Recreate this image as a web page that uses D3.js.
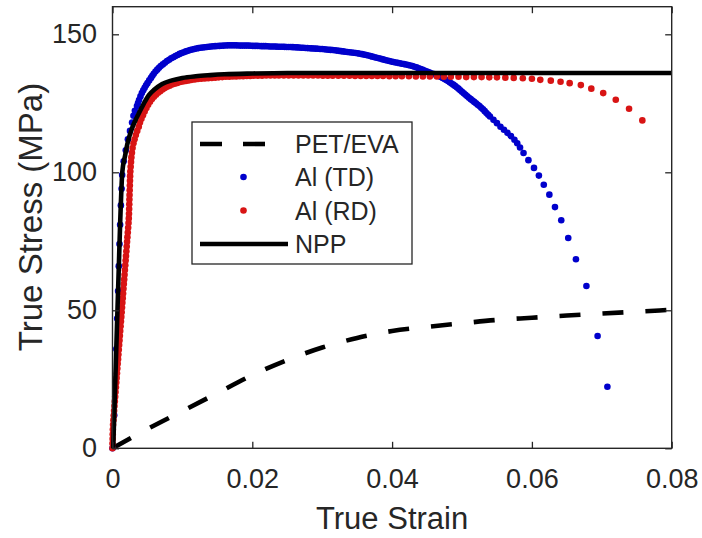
<!DOCTYPE html>
<html>
<head>
<meta charset="utf-8">
<script src="https://cdn.jsdelivr.net/npm/d3@7"></script>
<style>
  html, body { margin: 0; padding: 0; background: #fff; }
  svg { display: block; }
  text { font-family: "Liberation Sans", Arial, Helvetica, sans-serif; fill: #262626; }
</style>
</head>
<body>
<svg id="chart" width="702" height="538"></svg>
<script>
// Axis ticks
const strainTicks = [0, 0.02, 0.04, 0.06, 0.08];
const stressTicks = [0, 50, 100, 150];
const seriesNames = ["PET/EVA", "Al (TD)", "Al (RD)", "NPP"];
const axisTitles = { x: "True Strain", y: "True Stress (MPa)" };

// [true strain, true stress (MPa)]
const petEva = [
  [0, 0], [0.005, 7], [0.01, 13.5], [0.015, 20], [0.02, 26.5], [0.025, 32],
  [0.03, 36.5], [0.035, 40], [0.04, 42.5], [0.045, 44.0], [0.05, 45.3],
  [0.055, 46.5], [0.06, 47.3], [0.065, 48.1], [0.07, 48.8], [0.075, 49.5], [0.08, 50.2]
];

const alTD = [
  [0, 0], [0.000246, 12], [0.00039, 24], [0.00054, 36], [0.00067, 47], [0.0008, 57],
  [0.0009, 66], [0.001, 74], [0.00109, 81], [0.0012, 88], [0.0013, 94], [0.00138, 99],
  [0.0016, 104], [0.0019, 108], [0.0022, 112], [0.0025, 115], [0.0028, 118], [0.003, 120.5],
  [0.0032, 122.3], [0.0035, 124], [0.00365, 125.1], [0.0038, 126.2], [0.004, 127.5],
  [0.0042, 128.7], [0.0044, 129.7], [0.0046, 130.6], [0.0048, 131.5], [0.005, 132.3],
  [0.00525, 133.3], [0.0055, 134.2], [0.0057, 135], [0.0059, 135.7], [0.00615, 136.5],
  [0.0064, 137.2], [0.00665, 137.9], [0.0069, 138.5], [0.0072, 139.1], [0.0075, 139.7],
  [0.0078, 140.3], [0.0081, 140.8], [0.0084, 141.3], [0.0087, 141.7], [0.009, 142.1],
  [0.0093, 142.5], [0.0096, 142.9], [0.0099, 143.2], [0.0102, 143.5], [0.0105, 143.8],
  [0.0108, 144.05], [0.0111, 144.3], [0.0114, 144.5], [0.0117, 144.7], [0.012, 144.85],
  [0.0123, 145], [0.0126, 145.1], [0.0129, 145.2], [0.0132, 145.3], [0.0135, 145.4],
  [0.0138, 145.5], [0.0141, 145.6], [0.0144, 145.65], [0.0147, 145.7], [0.015, 145.75],
  [0.0153, 145.8], [0.0156, 145.85], [0.0159, 145.9], [0.0162, 145.95], [0.0165, 146],
  [0.0168, 146], [0.0171, 146], [0.0174, 146], [0.0177, 146], [0.018, 145.95],
  [0.0183, 145.9], [0.0186, 145.9], [0.0189, 145.9], [0.0192, 145.9], [0.0195, 145.9],
  [0.0198, 145.85], [0.0201, 145.8], [0.0204, 145.8], [0.0207, 145.8], [0.021, 145.75],
  [0.0213, 145.7], [0.0216, 145.7], [0.0219, 145.7], [0.0222, 145.65], [0.0225, 145.6],
  [0.0228, 145.6], [0.0231, 145.6], [0.0234, 145.55], [0.0237, 145.5], [0.024, 145.5],
  [0.0243, 145.5], [0.0246, 145.45], [0.0249, 145.4], [0.0252, 145.4], [0.0255, 145.4],
  [0.0258, 145.35], [0.0261, 145.3], [0.0264, 145.25], [0.0267, 145.2], [0.027, 145.15],
  [0.0273, 145.1], [0.0276, 145.05], [0.0279, 145], [0.0282, 144.95], [0.0285, 144.9],
  [0.0288, 144.85], [0.0291, 144.8], [0.0294, 144.75], [0.0297, 144.7], [0.03, 144.65],
  [0.0303, 144.6], [0.0306, 144.5], [0.0309, 144.4], [0.0312, 144.35], [0.0315, 144.3],
  [0.0318, 144.2], [0.0321, 144.1], [0.0324, 144], [0.0327, 143.9], [0.033, 143.8],
  [0.0333, 143.7], [0.0336, 143.6], [0.0339, 143.5], [0.0342, 143.4], [0.0345, 143.3],
  [0.0348, 143.2], [0.0351, 143.1], [0.0354, 142.95], [0.0357, 142.8], [0.036, 142.65],
  [0.0363, 142.5], [0.0366, 142.3], [0.0369, 142.1], [0.0372, 141.9], [0.0375, 141.7],
  [0.0378, 141.5], [0.0381, 141.3], [0.0384, 141.1], [0.0387, 140.9], [0.039, 140.7],
  [0.0393, 140.5], [0.0396, 140.3], [0.0399, 140.1], [0.0402, 139.95], [0.0405, 139.8],
  [0.0408, 139.65], [0.0411, 139.5], [0.0414, 139.35], [0.0417, 139.2], [0.042, 139.05],
  [0.0423, 138.9], [0.0426, 138.7], [0.0429, 138.5], [0.0432, 138.25], [0.0435, 138],
  [0.0438, 137.7], [0.0441, 137.4], [0.0444, 137.1], [0.0447, 136.8], [0.045, 136.5],
  [0.0453, 136.2], [0.0456, 135.9], [0.046, 135.6], [0.04625, 135.35], [0.0465, 135.1],
  [0.04675, 134.8], [0.047, 134.5], [0.04725, 134.15], [0.0475, 133.8], [0.04775, 133.45],
  [0.048, 133.1], [0.04825, 132.65], [0.0485, 132.2], [0.04875, 131.75], [0.049, 131.3],
  [0.04925, 130.8], [0.0495, 130.3], [0.04975, 129.75], [0.05, 129.2], [0.05025, 128.65],
  [0.0505, 128.1], [0.05075, 127.55], [0.051, 127], [0.05125, 126.5], [0.0515, 126],
  [0.05175, 125.5], [0.052, 125], [0.05225, 124.5], [0.0525, 124], [0.05275, 123.4],
  [0.053, 122.8], [0.05325, 122.15], [0.0535, 121.5], [0.05375, 120.85], [0.054, 120.2],
  [0.0545, 119], [0.055, 117.8], [0.0555, 116.5], [0.056, 115.4], [0.0565, 114.3],
  [0.057, 113.1], [0.0575, 111.8], [0.0579, 110.5], [0.0583, 109], [0.0588, 107],
  [0.0595, 104.4], [0.0603, 101.6], [0.061, 98.8], [0.0617, 95.5], [0.0625, 91.9],
  [0.0633, 87.4], [0.0642, 82.6], [0.0652, 76.2], [0.0663, 68.5], [0.0678, 58.8],
  [0.0694, 40.7], [0.0708, 22.3]
];

const alRD = [
  [0, 0], [0, 1.7], [0.00002, 3.4], [0.00003, 5.1], [0.00005, 6.8], [0.00008, 8.5],
  [0.00013, 10.2], [0.00018, 11.9], [0.00023, 13.6], [0.00028, 15.3], [0.00033, 17],
  [0.000385, 18.7], [0.000436, 20.4], [0.000488, 22.1], [0.000539, 23.8], [0.000591, 25.5],
  [0.000642, 27.2], [0.000694, 28.9], [0.000745, 30.6], [0.000797, 32.3], [0.000848, 34],
  [0.0009, 35.7], [0.000952, 37.4], [0.001003, 39.1], [0.001055, 40.8], [0.001106, 42.5],
  [0.001158, 44.2], [0.001209, 45.9], [0.001261, 47.6], [0.001312, 49.3], [0.001364, 51],
  [0.001415, 52.7], [0.001467, 54.4], [0.001518, 56.1], [0.00157, 57.8], [0.001621, 59.5],
  [0.001673, 61.2], [0.001724, 62.9], [0.001776, 64.6], [0.001827, 66.3], [0.001879, 68],
  [0.00193, 69.7], [0.001982, 71.4], [0.002033, 73.1], [0.002085, 74.8], [0.002136, 76.5],
  [0.002188, 78.2], [0.002239, 79.9], [0.002291, 81.6], [0.00233, 83.3], [0.00236, 85],
  [0.00238, 86.7], [0.0024, 88.4], [0.00242, 90.1], [0.00244, 91.8], [0.00246, 93.5],
  [0.00248, 95.2], [0.0025, 96.9], [0.00252, 98.6], [0.00255, 100.3], [0.0026, 102],
  [0.00265, 103.7], [0.0027, 105.4], [0.00278, 107.1], [0.00287, 108.8], [0.003, 110.5],
  [0.00316, 112], [0.00334, 113.5], [0.00354, 115], [0.00376, 116.5], [0.00393, 118],
  [0.00414, 119.4], [0.00436, 120.7], [0.0046, 122], [0.00485, 123.3], [0.0051, 124.5],
  [0.00537, 125.6], [0.00565, 126.6], [0.00593, 127.4], [0.00622, 128.1], [0.00652, 128.8],
  [0.00683, 129.4], [0.00715, 130], [0.00748, 130.5], [0.00782, 131], [0.00817, 131.4],
  [0.00853, 131.8], [0.0089, 132.1], [0.00928, 132.4], [0.00967, 132.7], [0.01007, 132.9],
  [0.01048, 133.1], [0.0109, 133.3], [0.01133, 133.5], [0.01177, 133.6], [0.01222, 133.8],
  [0.0127, 133.9], [0.0132, 134.0], [0.0137, 134.1], [0.0142, 134.2], [0.0147, 134.3],
  [0.0152, 134.4], [0.0157, 134.5], [0.0162, 134.6], [0.0167, 134.6], [0.0172, 134.7],
  [0.0177, 134.7], [0.0182, 134.8], [0.0187, 134.8], [0.0192, 134.9], [0.0197, 134.9],
  [0.0202, 135.0], [0.0208, 135.0], [0.0214, 135.0], [0.022, 135.1], [0.0226, 135.1],
  [0.0232, 135.1], [0.0238, 135.1], [0.0245, 135.1], [0.0252, 135.1], [0.0259, 135.1],
  [0.0266, 135.1], [0.0273, 135.1], [0.028, 135.1], [0.0287, 135.1], [0.0294, 135.1],
  [0.0301, 135.0], [0.0308, 135.0], [0.0315, 135.0], [0.0323, 135.0], [0.0331, 135.0],
  [0.0339, 135.0], [0.0347, 134.9], [0.0355, 134.9], [0.0363, 134.9], [0.0371, 134.9],
  [0.0379, 134.9], [0.0387, 134.9], [0.0396, 134.8], [0.0405, 134.8], [0.0414, 134.8],
  [0.0424, 134.8], [0.0434, 134.7], [0.0444, 134.7], [0.0454, 134.7], [0.0464, 134.7],
  [0.0474, 134.6], [0.0484, 134.6], [0.0495, 134.6], [0.0506, 134.5], [0.0517, 134.5],
  [0.0528, 134.5], [0.0539, 134.4], [0.055, 134.4], [0.0562, 134.3], [0.0574, 134.2],
  [0.0587, 134.1], [0.06, 133.9], [0.0612, 133.5], [0.0627, 133.2], [0.0641, 132.8],
  [0.0654, 132.3], [0.067, 131.6], [0.0685, 130.3], [0.0702, 128.7], [0.072, 126.3],
  [0.0739, 123], [0.0758, 118.8]
];

const npp = [
  [0.0001, 0], [0.0011, 82], [0.0014, 100], [0.0018, 106], [0.0021, 110], [0.0028, 116],
  [0.0035, 120], [0.0045, 125], [0.0052, 128], [0.006, 130], [0.0071, 132], [0.0085, 133.3],
  [0.01, 134.2], [0.0119, 134.8], [0.014, 135.2], [0.016, 135.5], [0.02, 135.8],
  [0.025, 136], [0.08, 136]
];

const colors = { td: "#0000cc", rd: "#d81414", ink: "#262626" };

const box = { left: 112.5, right: 671.7, top: 6.7, bottom: 448.3 };
const x = d3.scaleLinear().domain([0, 0.08]).range([box.left, box.right]);
const y = d3.scaleLinear().domain([0, 160]).range([box.bottom, box.top]);

const svg = d3.select("#chart");
svg.append("rect").attr("width", 702).attr("height", 538).attr("fill", "#fff");

const plot = svg.append("g");
const line = d3.line().x(d => x(d[0])).y(d => y(d[1])).curve(d3.curveMonotoneX);

// PET/EVA dashed curve
plot.append("path").datum(petEva)
  .attr("d", line).attr("fill", "none")
  .attr("stroke", "#000").attr("stroke-width", 4.6)
  .attr("stroke-dasharray", "21,22");

// Aluminium test points
const dotR = 3.3;
plot.append("g").selectAll("circle").data(alTD).join("circle")
  .attr("cx", d => x(d[0])).attr("cy", d => y(d[1])).attr("r", dotR)
  .attr("fill", colors.td);
plot.append("g").selectAll("circle").data(alRD).join("circle")
  .attr("cx", d => x(d[0])).attr("cy", d => y(d[1])).attr("r", dotR)
  .attr("fill", colors.rd);

// NPP solid curve
plot.append("path").datum(npp)
  .attr("d", line).attr("fill", "none")
  .attr("stroke", "#000").attr("stroke-width", 4.6);

// Axes with inward ticks on all four sides
const tickLen = 6.5;
const fmtStrain = d => d === 0 ? "0" : d.toFixed(2);
function styleAxis(g) {
  g.select(".domain").remove();
  g.selectAll("line").attr("stroke", colors.ink).attr("stroke-width", 1.3);
  g.selectAll("text").attr("fill", colors.ink).style("font-size", "27px")
    .attr("font-family", null);
}
svg.append("g").attr("transform", `translate(0,${box.bottom})`)
  .call(d3.axisBottom(x).tickValues(strainTicks).tickFormat(fmtStrain)
    .tickSizeInner(-tickLen).tickSizeOuter(0).tickPadding(21))
  .call(styleAxis);
svg.append("g").attr("transform", `translate(0,${box.top})`)
  .call(d3.axisTop(x).tickValues(strainTicks).tickFormat("")
    .tickSizeInner(-tickLen).tickSizeOuter(0))
  .call(styleAxis);
svg.append("g").attr("transform", `translate(${box.left},0)`)
  .call(d3.axisLeft(y).tickValues(stressTicks)
    .tickSizeInner(-tickLen).tickSizeOuter(0).tickPadding(15.5))
  .call(styleAxis);
svg.append("g").attr("transform", `translate(${box.right},0)`)
  .call(d3.axisRight(y).tickValues(stressTicks).tickFormat("")
    .tickSizeInner(-tickLen).tickSizeOuter(0))
  .call(styleAxis);

svg.append("rect")
  .attr("x", box.left).attr("y", box.top)
  .attr("width", box.right - box.left).attr("height", box.bottom - box.top)
  .attr("fill", "none").attr("stroke", colors.ink).attr("stroke-width", 1.4);

// Axis titles
svg.append("text").attr("x", (box.left + box.right) / 2).attr("y", 529)
  .attr("text-anchor", "middle").style("font-size", "31px").text(axisTitles.x);
svg.append("text")
  .attr("transform", `translate(42,217) rotate(-90)`)
  .attr("text-anchor", "middle").style("font-size", "33px").text(axisTitles.y);

// Legend
const lg = svg.append("g");
lg.append("rect").attr("x", 192).attr("y", 122).attr("width", 220).attr("height", 142)
  .attr("fill", "#fff").attr("stroke", colors.ink).attr("stroke-width", 1.3);
const rows = [153, 186, 219.5, 253];
seriesNames.forEach((name, i) => {
  const cy = rows[i] - 9;
  if (i === 0) {
    lg.append("line").attr("x1", 200).attr("x2", 266).attr("y1", cy).attr("y2", cy)
      .attr("stroke", "#000").attr("stroke-width", 4.6).attr("stroke-dasharray", "22,21");
  } else if (i === 3) {
    lg.append("line").attr("x1", 200).attr("x2", 288).attr("y1", cy).attr("y2", cy)
      .attr("stroke", "#000").attr("stroke-width", 4.6);
  } else {
    lg.append("circle").attr("cx", 243.5).attr("cy", cy).attr("r", dotR)
      .attr("fill", i === 1 ? colors.td : colors.rd);
  }
  lg.append("text").attr("x", 295).attr("y", rows[i]).style("font-size", "25px").text(name);
});
</script>
</body>
</html>
